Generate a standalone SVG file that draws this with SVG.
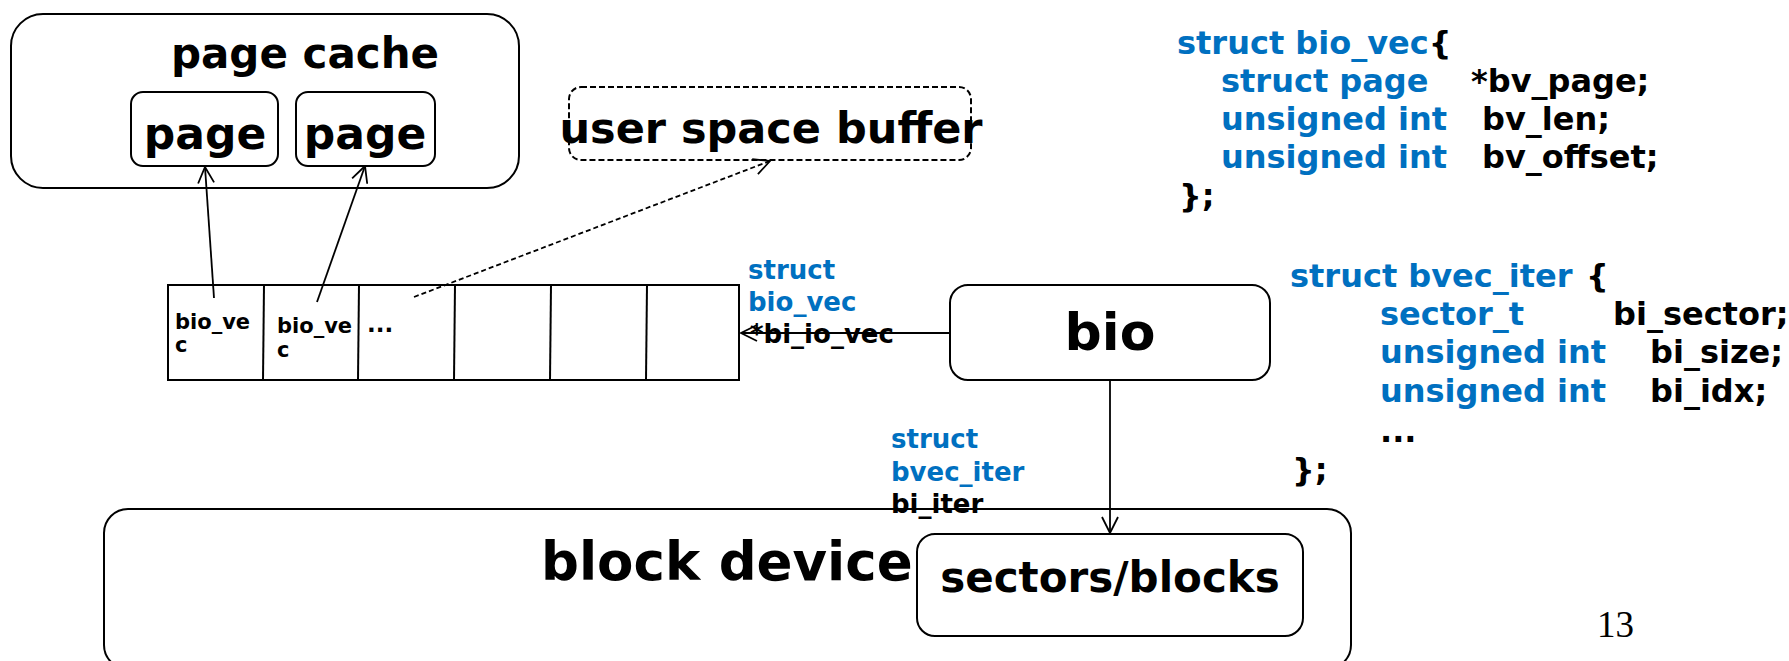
<svg xmlns="http://www.w3.org/2000/svg" width="1789" height="661" viewBox="0 0 1789 661">
  <style>
    text { font-family: "DejaVu Sans", "Liberation Sans", sans-serif; font-weight: bold; fill: #000; }
    .box { fill: #fff; stroke: #000; stroke-width: 2; }
    .dash { fill: #fff; stroke: #000; stroke-width: 2; stroke-dasharray: 6 3; }
    .cell { fill: none; stroke: #000; stroke-width: 2; }
    .edge { fill: none; stroke: #000; stroke-width: 1.8; marker-end: url(#open); }
    .edge-dash { fill: none; stroke: #000; stroke-width: 1.8; stroke-dasharray: 5 3; marker-end: url(#open); }
    .kw { fill: #0070C0; }
    .code { font-size: 32px; }
    .lbl { font-size: 26px; }
  </style>
  <defs>
    <marker id="open" viewBox="0 0 18 18" refX="17" refY="9" markerWidth="18" markerHeight="18" markerUnits="userSpaceOnUse" orient="auto">
      <path d="M1,1 L17,9 L1,17" fill="none" stroke="#000" stroke-width="1.8"/>
    </marker>
  </defs>

  <!-- page cache with two pages -->
  <g id="page-cache">
    <rect class="box" x="11" y="14" width="508" height="174" rx="32"/>
    <text x="305" y="68" font-size="42" text-anchor="middle">page cache</text>
  </g>
  <g id="page1">
    <rect class="box" x="131" y="92" width="147" height="74" rx="12"/>
    <text x="205" y="149" font-size="44" text-anchor="middle">page</text>
  </g>
  <g id="page2">
    <rect class="box" x="296" y="92" width="139" height="74" rx="12"/>
    <text x="365" y="149" font-size="44" text-anchor="middle">page</text>
  </g>

  <!-- user space buffer -->
  <g id="user-buffer">
    <rect class="dash" x="569" y="87" width="402" height="73" rx="12"/>
    <text x="771" y="143" font-size="43" text-anchor="middle">user space buffer</text>
  </g>

  <!-- bio_vec array -->
  <g id="bvec-array">
    <rect class="cell" x="168" y="285" width="571" height="95"/>
    <line class="cell" x1="264" y1="285" x2="263" y2="380"/>
    <line class="cell" x1="359" y1="285" x2="358" y2="380"/>
    <line class="cell" x1="455" y1="285" x2="454" y2="380"/>
    <line class="cell" x1="551" y1="285" x2="550" y2="380"/>
    <line class="cell" x1="647" y1="285" x2="646" y2="380"/>
    <text font-size="21"><tspan x="175" y="329">bio_ve</tspan><tspan x="175" y="352">c</tspan></text>
    <text font-size="21"><tspan x="277" y="333">bio_ve</tspan><tspan x="277" y="357">c</tspan></text>
    <text x="367" y="332" font-size="23">...</text>
  </g>

  <!-- bio -->
  <g id="bio">
    <rect class="box" x="950" y="285" width="320" height="95" rx="18"/>
    <text x="1110" y="350" font-size="52" text-anchor="middle">bio</text>
  </g>

  <!-- block device -->
  <g id="block-device">
    <rect class="box" x="104" y="509" width="1247" height="160" rx="24"/>
    <text x="541" y="580" font-size="53">block device</text>
  </g>
  <g id="sectors">
    <rect class="box" x="917" y="534" width="386" height="102" rx="18"/>
    <text x="1110" y="592" font-size="42" text-anchor="middle">sectors/blocks</text>
  </g>

  <!-- connectors -->
  <g id="connectors">
    <line class="edge" x1="214" y1="298" x2="205" y2="167"/>
    <line class="edge" x1="317" y1="302" x2="365" y2="166"/>
    <line class="edge-dash" x1="414" y1="297" x2="770" y2="161"/>
    <line class="edge" x1="950" y1="333" x2="741" y2="333"/>
    <line class="edge" x1="1110" y1="380" x2="1110" y2="533"/>
  </g>

  <!-- connector labels -->
  <g id="label-bi-io-vec">
    <text x="748" y="279" class="lbl"><tspan class="kw">struct</tspan></text>
    <text x="748" y="311" class="lbl"><tspan class="kw">bio_vec</tspan></text>
    <text x="750" y="343" class="lbl">*bi_io_vec</text>
  </g>
  <g id="label-bi-iter">
    <text x="891" y="448" class="lbl"><tspan class="kw">struct</tspan></text>
    <text x="891" y="481" class="lbl"><tspan class="kw">bvec_iter</tspan></text>
    <text x="891" y="513" class="lbl">bi_iter</text>
  </g>

  <!-- struct bio_vec definition -->
  <g id="def-bio-vec">
    <text class="code" y="54"><tspan x="1177" class="kw">struct bio_vec</tspan><tspan>{</tspan></text>
    <text class="code" y="92"><tspan x="1221" class="kw">struct page</tspan><tspan x="1471">*bv_page;</tspan></text>
    <text class="code" y="130"><tspan x="1221" class="kw">unsigned int</tspan><tspan x="1482">bv_len;</tspan></text>
    <text class="code" y="168"><tspan x="1221" class="kw">unsigned int</tspan><tspan x="1482">bv_offset;</tspan></text>
    <text class="code" x="1179" y="207">};</text>
  </g>

  <!-- struct bvec_iter definition -->
  <g id="def-bvec-iter">
    <text class="code" y="287"><tspan x="1290" class="kw">struct bvec_iter</tspan><tspan x="1586">{</tspan></text>
    <text class="code" y="325"><tspan x="1380" class="kw">sector_t</tspan><tspan x="1613">bi_sector;</tspan></text>
    <text class="code" y="363"><tspan x="1380" class="kw">unsigned int</tspan><tspan x="1650">bi_size;</tspan></text>
    <text class="code" y="402"><tspan x="1380" class="kw">unsigned int</tspan><tspan x="1650">bi_idx;</tspan></text>
    <text class="code" x="1380" y="442">...</text>
    <text class="code" x="1292" y="481">};</text>
  </g>

  <!-- slide number -->
  <text x="1597" y="637" font-size="37" style="font-family: 'Liberation Serif', serif; font-weight: normal;">13</text>
</svg>
